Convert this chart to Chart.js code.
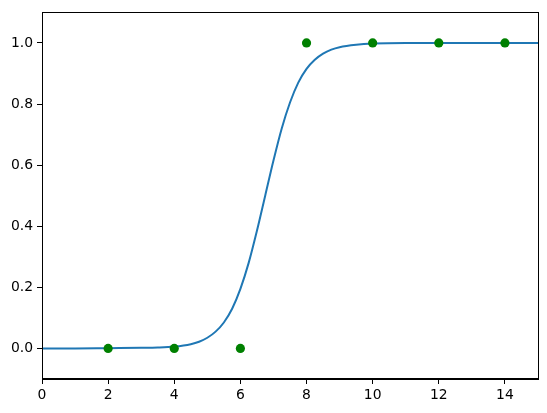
<!DOCTYPE html>
<html>
<head>
<meta charset="utf-8">
<script src="https://cdn.jsdelivr.net/npm/chart.js@4"></script>
<style>
  html, body { margin: 0; padding: 0; background: #fff; }
  #wrap { width: 547px; height: 413px; }
</style>
</head>
<body>
<div id="wrap"><canvas id="fitChart" width="547" height="413"></canvas></div>
<script>
// observed points
const pointX = [2, 4, 6, 8, 10, 12, 14];
const pointY = [0, 0, 0, 1, 1, 1, 1];

// fitted curve
const curveX = [0, 1, 2, 3, 3.5, 4, 4.5, 4.75, 5, 5.25, 5.5, 5.75, 6, 6.25, 6.5, 6.75, 7, 7.25, 7.5, 7.75, 8, 8.25, 8.5, 8.75, 9, 9.5, 10, 11, 12, 13, 14, 15];
const curveY = [0, 0, 0.001, 0.002, 0.003, 0.006, 0.014, 0.022, 0.035, 0.055, 0.085, 0.13, 0.195, 0.28, 0.385, 0.5, 0.615, 0.72, 0.805, 0.87, 0.915, 0.945, 0.965, 0.978, 0.986, 0.994, 0.998, 1, 1, 1, 1, 1];

const xTicks = [0, 2, 4, 6, 8, 10, 12, 14];
const yTicks = [0, 0.2, 0.4, 0.6, 0.8, 1.0];

Chart.defaults.font.family = "'DejaVu Sans', sans-serif";
Chart.defaults.font.size = 13.9;
Chart.defaults.color = '#000';

// box around the plot area (top and right spines)
const frame = {
  id: 'frame',
  afterDraw(chart) {
    const { ctx, chartArea: a } = chart;
    ctx.save();
    ctx.strokeStyle = '#000';
    ctx.lineWidth = 1;
    ctx.strokeRect(Math.round(a.left) + 0.5, Math.round(a.top) + 0.5,
      Math.round(a.right - a.left), Math.round(a.bottom - a.top));
    ctx.restore();
  }
};

const ctx = document.getElementById('fitChart').getContext('2d');
new Chart(ctx, {
  type: 'scatter',
  data: {
    datasets: [{
      label: 'data',
      data: pointX.map((x, i) => ({ x: x, y: pointY[i] })),
      backgroundColor: '#008000',
      borderColor: '#008000',
      pointRadius: 4.6,
      pointHoverRadius: 4.6,
      borderWidth: 0,
      order: 0
    }, {
      label: 'fit',
      data: curveX.map((x, i) => ({ x: x, y: curveY[i] })),
      showLine: true,
      borderColor: '#1f77b4',
      borderWidth: 2,
      pointRadius: 0,
      cubicInterpolationMode: 'monotone',
      order: 1
    }]
  },
  options: {
    responsive: false,
    animation: false,
    devicePixelRatio: 1,
    layout: { padding: { top: 10, right: 9, left: 0, bottom: 0 } },
    plugins: { legend: { display: false }, tooltip: { enabled: false } },
    scales: {
      x: {
        type: 'linear',
        min: 0,
        max: 15,
        afterBuildTicks: s => { s.ticks = xTicks.map(v => ({ value: v })); },
        afterFit: s => { s.height = 34; },
        grid: { drawOnChartArea: false, drawTicks: true, tickLength: 5, color: '#000' },
        border: { display: true, color: '#000' },
        ticks: { padding: 3, maxRotation: 0, callback: v => String(v) }
      },
      y: {
        type: 'linear',
        min: -0.1,
        max: 1.1,
        afterBuildTicks: s => { s.ticks = yTicks.map(v => ({ value: v })); },
        afterFit: s => { s.width = 42; },
        grid: { drawOnChartArea: false, drawTicks: true, tickLength: 5, color: '#000' },
        border: { display: true, color: '#000' },
        ticks: { padding: 4, callback: v => Number(v).toFixed(1) }
      }
    }
  },
  plugins: [frame]
});
</script>
</body>
</html>
